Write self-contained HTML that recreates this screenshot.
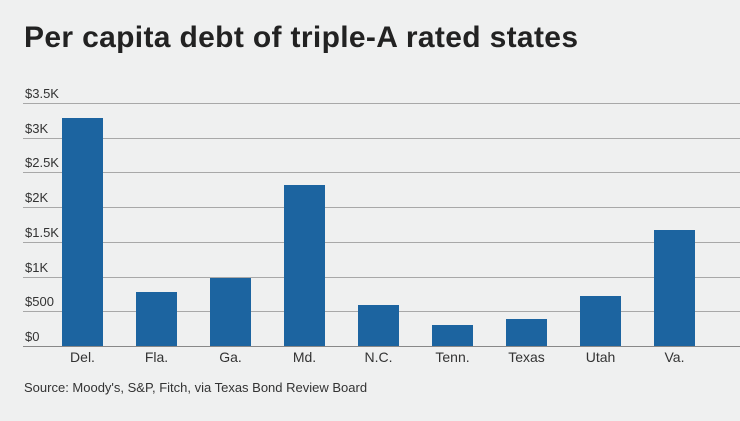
<!DOCTYPE html>
<html><head><meta charset="utf-8"><style>
body{margin:0;width:740px;height:416px;background:#eff0f0;overflow:hidden;font-family:"Liberation Sans",sans-serif}
</style></head><body>
<svg width="740" height="416" xmlns="http://www.w3.org/2000/svg">
<rect width="740" height="416" fill="#eff0f0"/>
<text x="24" y="47" font-size="30" font-weight="bold" fill="#222" textLength="554" font-family="Liberation Sans, sans-serif">Per capita debt of triple-A rated states</text>
<g stroke="#a8a8a8" stroke-width="1">
<line x1="23" x2="740" y1="103.5" y2="103.5"/>
<line x1="23" x2="740" y1="138.5" y2="138.5"/>
<line x1="23" x2="740" y1="172.5" y2="172.5"/>
<line x1="23" x2="740" y1="207.5" y2="207.5"/>
<line x1="23" x2="740" y1="242.5" y2="242.5"/>
<line x1="23" x2="740" y1="277.5" y2="277.5"/>
<line x1="23" x2="740" y1="311.5" y2="311.5"/>
</g>
<g font-size="13" fill="#333" font-family="Liberation Sans, sans-serif">
<text x="25" y="98">$3.5K</text>
<text x="25" y="133">$3K</text>
<text x="25" y="167">$2.5K</text>
<text x="25" y="202">$2K</text>
<text x="25" y="237">$1.5K</text>
<text x="25" y="272">$1K</text>
<text x="25" y="306">$500</text>
<text x="25" y="341">$0</text>
</g>
<g fill="#1c64a0">
<rect x="62" y="118" width="41" height="228"/>
<rect x="136" y="292" width="41" height="54"/>
<rect x="210" y="278" width="41" height="68"/>
<rect x="284" y="185" width="41" height="161"/>
<rect x="358" y="305" width="41" height="41"/>
<rect x="432" y="325" width="41" height="21"/>
<rect x="506" y="319" width="41" height="27"/>
<rect x="580" y="296" width="41" height="50"/>
<rect x="654" y="230" width="41" height="116"/>
</g>
<line x1="23" x2="740" y1="346.5" y2="346.5" stroke="#888" stroke-width="1"/>
<g font-size="14" fill="#333" text-anchor="middle" font-family="Liberation Sans, sans-serif">
<text x="82.5" y="362">Del.</text>
<text x="156.5" y="362">Fla.</text>
<text x="230.5" y="362">Ga.</text>
<text x="304.5" y="362">Md.</text>
<text x="378.5" y="362">N.C.</text>
<text x="452.5" y="362">Tenn.</text>
<text x="526.5" y="362">Texas</text>
<text x="600.5" y="362">Utah</text>
<text x="674.5" y="362">Va.</text>
</g>
<text x="24" y="392" font-size="13" fill="#333" font-family="Liberation Sans, sans-serif">Source: Moody's, S&amp;P, Fitch, via Texas Bond Review Board</text>
</svg>
</body></html>
